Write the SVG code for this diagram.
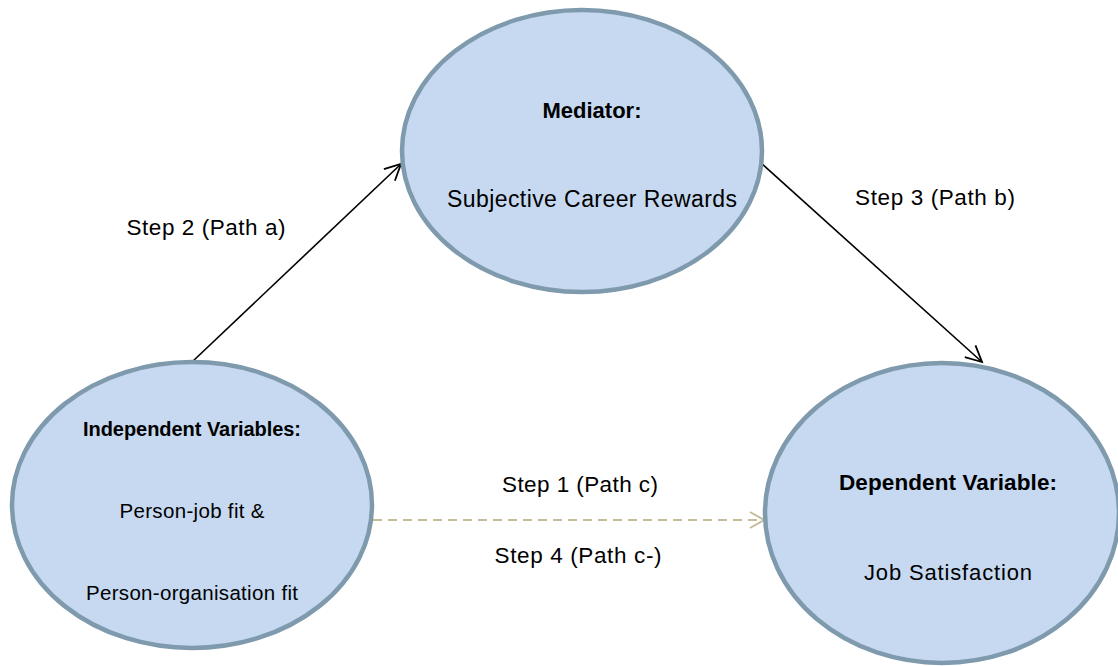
<svg xmlns="http://www.w3.org/2000/svg" width="1118" height="666" viewBox="0 0 1118 666">
<defs>
<style>
.node{fill:#c6d9f0;stroke:#7f9aad;stroke-width:4.5}
.t{font-family:"Liberation Sans",Arial,sans-serif;fill:#000;text-anchor:middle}
.b{font-weight:bold}
.solid{stroke:#000;stroke-width:1.6;fill:none}
.dash{stroke:#c4bd97;stroke-width:2;fill:none;stroke-dasharray:9 6}
</style>
<marker id="arrB" markerUnits="userSpaceOnUse" markerWidth="30" markerHeight="30" refX="0" refY="0" viewBox="-20 -15 30 30" orient="auto">
<path d="M-16,-8 L0,0 L-16,8" fill="none" stroke="#000" stroke-width="1.8"/>
</marker>
<marker id="arrD" markerUnits="userSpaceOnUse" markerWidth="30" markerHeight="30" refX="0" refY="0" viewBox="-20 -15 30 30" orient="auto">
<path d="M-14,-8 L0,0 L-14,8" fill="none" stroke="#c4bd97" stroke-width="2"/>
</marker>
</defs>
<rect width="1118" height="666" fill="#fff"/>
<g id="connectors">
<line class="solid" x1="192" y1="362" x2="401" y2="164" marker-end="url(#arrB)"/>
<line class="solid" x1="761" y1="163" x2="982" y2="362" marker-end="url(#arrB)"/>
<line class="dash" x1="373" y1="520" x2="764" y2="520" marker-end="url(#arrD)"/>
<text class="t" x="206" y="235" font-size="22.5" textLength="159">Step 2 (Path a)</text>
<text class="t" x="935" y="205" font-size="22.5" textLength="160">Step 3 (Path b)</text>
<text class="t" x="580" y="492" font-size="22.5" textLength="156">Step 1 (Path c)</text>
<text class="t" x="578" y="563" font-size="22.5" textLength="167">Step 4 (Path c-)</text>
</g>
<g id="mediator">
<ellipse class="node" cx="582" cy="151" rx="180" ry="141"/>
<text class="t b" x="592" y="118" font-size="22" textLength="99">Mediator:</text>
<text class="t" x="592" y="207" font-size="23" textLength="290">Subjective Career Rewards</text>
</g>
<g id="independent">
<ellipse class="node" cx="192" cy="505" rx="180" ry="143"/>
<text class="t b" x="192" y="436" font-size="20" textLength="218">Independent Variables:</text>
<text class="t" x="192" y="518" font-size="20.5" textLength="145">Person-job fit &amp;</text>
<text class="t" x="192" y="600" font-size="20.5" textLength="212">Person-organisation fit</text>
</g>
<g id="dependent">
<ellipse class="node" cx="942" cy="513" rx="177" ry="150"/>
<text class="t b" x="948" y="490" font-size="22.5" textLength="218">Dependent Variable:</text>
<text class="t" x="948" y="580" font-size="22" textLength="168">Job Satisfaction</text>
</g>
</svg>
